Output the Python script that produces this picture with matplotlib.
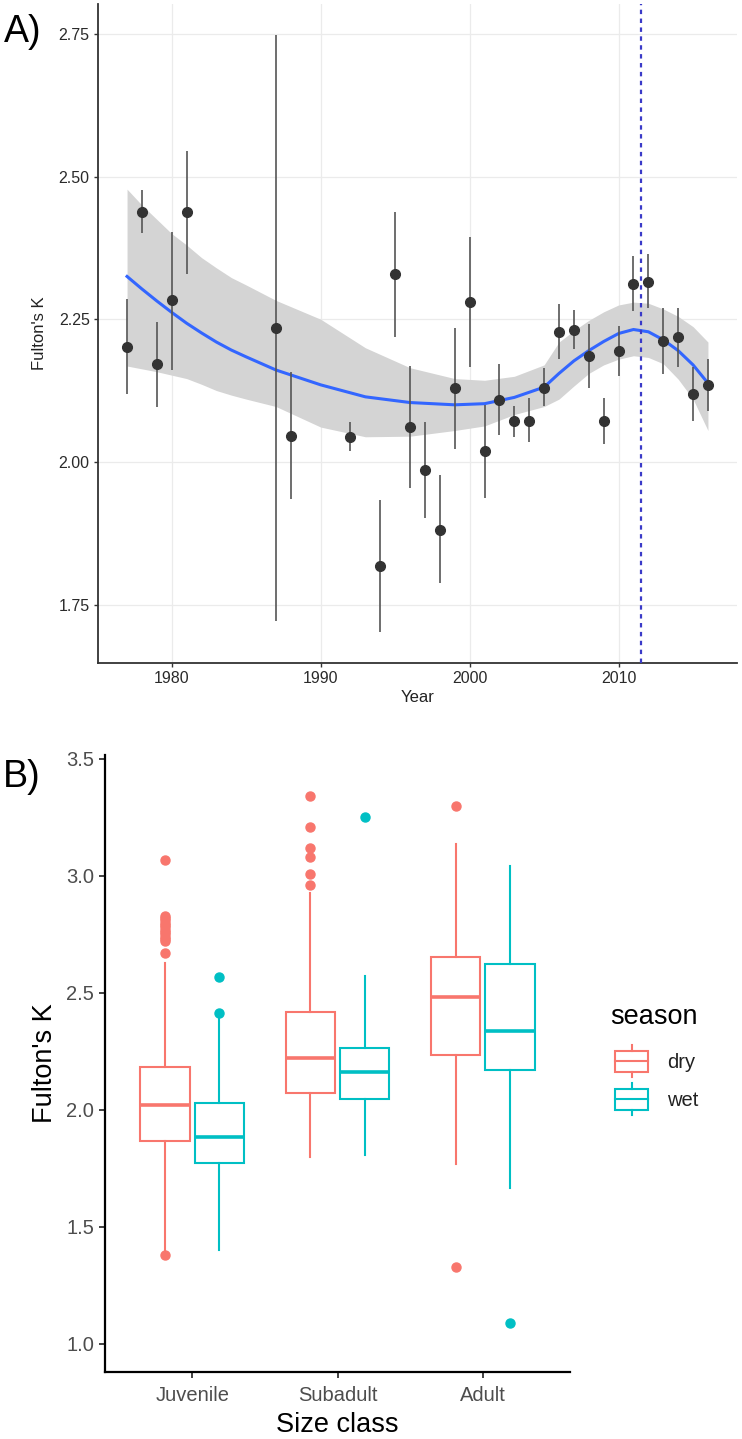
"""Fulton's K by year (A) and by size class / season (B)"""

import matplotlib
matplotlib.use("Agg")
import matplotlib.pyplot as plt
from matplotlib.patches import Rectangle
import numpy as np

plt.rcParams['font.family'] = ['Liberation Sans', 'DejaVu Sans']

# ---- panel A: yearly mean +- interval, loess fit with CI ----
years = [1977, 1978, 1979, 1980, 1981, 1987, 1988, 1992, 1994, 1995, 1996,
         1997, 1998, 1999, 2000, 2001, 2002, 2003, 2004, 2005, 2006, 2007,
         2008, 2009, 2010, 2011, 2012, 2013, 2014, 2015, 2016]
k_mean = [2.202, 2.438, 2.171, 2.283, 2.438, 2.234, 2.045, 2.044, 1.817, 2.330,
          2.061, 1.986, 1.881, 2.129, 2.281, 2.019, 2.108, 2.072, 2.072, 2.129,
          2.227, 2.232, 2.185, 2.072, 2.194, 2.312, 2.316, 2.211, 2.218, 2.119,
          2.134]
k_low = [2.119, 2.401, 2.096, 2.161, 2.330, 1.721, 1.935, 2.019, 1.702, 2.218,
         1.955, 1.902, 1.787, 2.023, 2.166, 1.937, 2.047, 2.044, 2.035, 2.098,
         2.180, 2.197, 2.129, 2.031, 2.150, 2.264, 2.269, 2.154, 2.166, 2.072,
         2.089]
k_high = [2.286, 2.476, 2.246, 2.403, 2.544, 2.749, 2.157, 2.070, 1.934, 2.438,
          2.168, 2.070, 1.977, 2.234, 2.394, 2.099, 2.171, 2.098, 2.112, 2.164,
          2.276, 2.267, 2.241, 2.112, 2.239, 2.361, 2.365, 2.270, 2.269, 2.166,
          2.180]

smooth_year = [1977, 1978, 1979, 1980, 1981, 1982, 1983, 1984, 1985, 1987, 1990,
               1993, 1996, 1999, 2001, 2003, 2005, 2006, 2007, 2008, 2009, 2010,
               2011, 2012, 2013, 2014, 2015, 2016]
smooth_fit = [2.325, 2.303, 2.282, 2.262, 2.243, 2.226, 2.210, 2.196, 2.184, 2.161,
              2.135, 2.114, 2.104, 2.100, 2.102, 2.113, 2.131, 2.155, 2.177, 2.195,
              2.211, 2.225, 2.232, 2.228, 2.214, 2.195, 2.170, 2.138]
smooth_lo = [2.168, 2.163, 2.158, 2.152, 2.146, 2.136, 2.125, 2.117, 2.110, 2.097,
             2.061, 2.044, 2.045, 2.055, 2.063, 2.083, 2.097, 2.110, 2.133, 2.155,
             2.170, 2.180, 2.186, 2.183, 2.172, 2.145, 2.110, 2.055]
smooth_hi = [2.478, 2.450, 2.425, 2.400, 2.380, 2.358, 2.340, 2.323, 2.310, 2.283,
             2.250, 2.200, 2.165, 2.146, 2.143, 2.150, 2.170, 2.210, 2.230, 2.248,
             2.263, 2.275, 2.280, 2.278, 2.268, 2.255, 2.237, 2.210]
break_year = 2011.5

# ---- panel B: boxplot stats per size class ----
classes = ['Juvenile', 'Subadult', 'Adult']
seasons = ['dry', 'wet']
dry_whislo = [1.40, 1.80, 1.77]
dry_q1 = [1.869, 2.074, 2.235]
dry_med = [2.019, 2.222, 2.483]
dry_q3 = [2.184, 2.419, 2.654]
dry_whishi = [2.628, 2.927, 3.137]
dry_fliers = [[3.07, 2.83, 2.82, 2.81, 2.80, 2.79, 2.78, 2.77, 2.76, 2.75, 2.74,
               2.73, 2.72, 2.67, 1.38],
              [3.34, 3.21, 3.12, 3.08, 3.01, 2.96],
              [3.30, 1.33]]
wet_whislo = [1.40, 1.808, 1.667]
wet_q1 = [1.773, 2.047, 2.171]
wet_med = [1.885, 2.162, 2.338]
wet_q3 = [2.029, 2.265, 2.624]
wet_whishi = [2.40, 2.573, 3.043]
wet_fliers = [[2.57, 2.415], [3.25], [1.09]]

season_colors = ['#F8766D', '#00BFC4']

W, H = 742, 1439
fig = plt.figure(figsize=(W / 100, H / 100), dpi=100)

# ---------------- panel A ----------------
ax1 = fig.add_axes([98 / W, 1 - 663 / H, (737 - 98) / W, (663 - 4) / H])
ax1.fill_between(smooth_year, smooth_lo, smooth_hi, color='#d4d4d4', lw=0, zorder=1)
ax1.plot(smooth_year, smooth_fit, color='#3366FF', lw=2.2, zorder=2)
ax1.vlines(years, k_low, k_high, color='#555555', lw=1.2, zorder=3)
ax1.plot(years, k_mean, 'o', color='#333333', ms=7, zorder=4)
ax1.axvline(break_year, color='#3a3ac8', lw=1.6, ls=(0, (2, 2)), zorder=5)

ax1.set_xlim(1975.05, 2017.95)
ax1.set_ylim(1.6475, 2.8025)
ax1.set_xticks([1980, 1990, 2000, 2010])
ax1.set_yticks([1.75, 2.00, 2.25, 2.50, 2.75])
ax1.set_yticklabels(['1.75', '2.00', '2.25', '2.50', '2.75'])
ax1.grid(True, color='#ebebeb', lw=0.9)
ax1.set_axisbelow(True)
for s in ['top', 'right']:
    ax1.spines[s].set_visible(False)
for s in ['left', 'bottom']:
    ax1.spines[s].set_color('#333333')
    ax1.spines[s].set_linewidth(1.3)
ax1.tick_params(length=3, width=1, color='#333333', labelsize=11.5,
                labelcolor='#2a2a2a', pad=3)
ax1.set_xlabel('Year', fontsize=12, color='#222222', labelpad=3)
ax1.set_ylabel("Fulton's K", fontsize=12, color='#222222', labelpad=8)

# ---------------- panel B ----------------
ax2 = fig.add_axes([105 / W, 1 - 1372 / H, (570 - 105) / W, (1372 - 755) / H])
groups = [
    (dry_whislo, dry_q1, dry_med, dry_q3, dry_whishi, dry_fliers, -0.1875),
    (wet_whislo, wet_q1, wet_med, wet_q3, wet_whishi, wet_fliers, 0.1875),
]
for (wlo, q1, med, q3, whi, fl, off), col in zip(groups, season_colors):
    stats = []
    for i in range(len(classes)):
        stats.append(dict(whislo=wlo[i], q1=q1[i], med=med[i], q3=q3[i],
                          whishi=whi[i], fliers=fl[i]))
    pos = [i + off for i in range(len(classes))]
    ax2.bxp(stats, positions=pos, widths=0.34, showcaps=False, patch_artist=True,
            boxprops=dict(facecolor='white', edgecolor=col, lw=1.5),
            whiskerprops=dict(color=col, lw=1.5),
            medianprops=dict(color=col, lw=2.6),
            flierprops=dict(marker='o', markerfacecolor=col, markeredgecolor=col,
                            markersize=6.5))

ax2.set_xlim(-0.6, 2.6)
ax2.set_ylim(0.88, 3.517)
ax2.set_xticks(range(len(classes)))
ax2.set_xticklabels(classes)
ax2.set_yticks([1.0, 1.5, 2.0, 2.5, 3.0, 3.5])
for s in ['top', 'right']:
    ax2.spines[s].set_visible(False)
for s in ['left', 'bottom']:
    ax2.spines[s].set_color('black')
    ax2.spines[s].set_linewidth(1.6)
ax2.tick_params(length=4, width=1.3, color='#333333', labelsize=14.5,
                labelcolor='#4d4d4d', pad=4)
ax2.tick_params(axis='x', pad=6)
ax2.set_xlabel('Size class', fontsize=19.5, labelpad=5)
ax2.set_ylabel("Fulton's K", fontsize=19.5, labelpad=6)

# ---------------- overlay: panel tags and legend ----------------
ov = fig.add_axes([0, 0, 1, 1])
ov.set_xlim(0, W)
ov.set_ylim(H, 0)
ov.axis('off')
ov.text(4, 32, 'A)', fontsize=27, va='center', ha='left')
ov.text(3, 777, 'B)', fontsize=27, va='center', ha='left')

ov.text(610, 1017, 'season', fontsize=19.5, va='center', ha='left')
for j, (lab, col) in enumerate(zip(seasons, season_colors)):
    yc = 1061 + j * 38
    ov.add_patch(Rectangle((615, yc - 10.5), 33, 21, fill=False, ec=col, lw=1.5))
    ov.plot([615, 648], [yc, yc], color=col, lw=1.5)
    ov.plot([631.5, 631.5], [yc - 16, yc - 10.5], color=col, lw=1.5)
    ov.plot([631.5, 631.5], [yc + 10.5, yc + 16], color=col, lw=1.5)
    ov.text(667, yc + 1, lab, fontsize=14.5, va='center', ha='left', color='#222222')

fig.savefig('out.png', dpi=100)
